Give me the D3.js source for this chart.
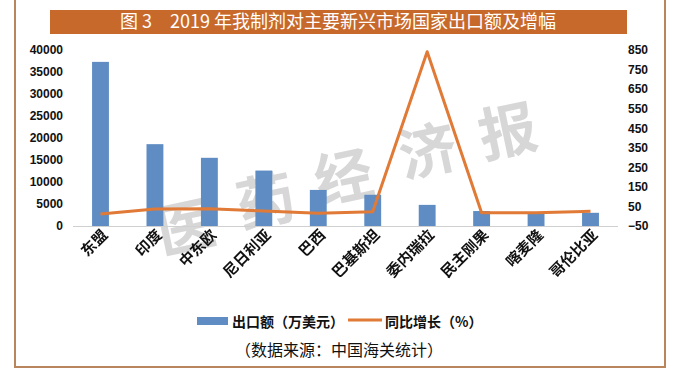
<!DOCTYPE html>
<html>
<head>
<meta charset="utf-8">
<script src="https://cdn.jsdelivr.net/npm/d3@7"></script>
<style>
  body { margin: 0; background: #fff; }
  text { font-family: "Noto Sans CJK SC", "Noto Sans", sans-serif; }
  .tick-num { font-family: "Liberation Sans", Arial, sans-serif; font-weight: bold; font-size: 12px; fill: #111; }
</style>
</head>
<body>
<div class="chart"></div>
<script>
var svgWidth = 679;
var svgHeight = 388;

// data
var countries = ["东盟", "印度", "中东欧", "尼日利亚", "巴西", "巴基斯坦", "委内瑞拉", "民主刚果", "喀麦隆", "哥伦比亚"];
var exportValues = [37300, 18600, 15500, 12600, 8200, 7100, 4800, 3400, 3000, 3000];
var growthValues = [11, 37, 38, 27, 15, 23, 841, 18, 18, 25];
var leftTicks = [0, 5000, 10000, 15000, 20000, 25000, 30000, 35000, 40000];
var rightTicks = [-50, 50, 150, 250, 350, 450, 550, 650, 750, 850];
var watermarkChars = ["医", "药", "经", "济", "报"];

var plot = { left: 73, right: 618, top: 50, bottom: 226 };

var svg = d3.select(".chart")
  .append("svg")
  .attr("width", svgWidth)
  .attr("height", svgHeight);

// outer frame
svg.append("rect")
  .attr("x", 15)
  .attr("y", -4)
  .attr("width", 650)
  .attr("height", 371)
  .attr("fill", "none")
  .attr("stroke", "#b9855d")
  .attr("stroke-width", 2);

// title bar
svg.append("rect")
  .attr("x", 50)
  .attr("y", 10)
  .attr("width", 577)
  .attr("height", 24)
  .attr("fill", "#c8692c");

svg.append("text")
  .attr("x", 338)
  .attr("y", 28)
  .attr("text-anchor", "middle")
  .attr("fill", "#fff")
  .attr("font-size", "18px")
  .text("图 3　2019 年我制剂对主要新兴市场国家出口额及增幅");

// scales
var xScale = d3.scaleBand()
  .domain(countries)
  .range([plot.left, plot.right])
  .paddingInner(0.69)
  .paddingOuter(0.35);

var yLeft = d3.scaleLinear()
  .domain([0, 40000])
  .range([plot.bottom, plot.top]);

var yRight = d3.scaleLinear()
  .domain([-50, 850])
  .range([plot.bottom, plot.top]);

// left axis (labels only)
var leftAxis = svg.append("g")
  .attr("transform", `translate(${plot.left}, 0)`)
  .call(d3.axisLeft(yLeft).tickValues(leftTicks).tickFormat(d3.format("d")).tickSize(0).tickPadding(10));
leftAxis.select(".domain").remove();
leftAxis.selectAll("text").attr("class", "tick-num");

// right axis (labels only)
var rightAxis = svg.append("g")
  .attr("transform", `translate(${plot.right}, 0)`)
  .call(d3.axisRight(yRight).tickValues(rightTicks).tickFormat(d3.format("d")).tickSize(0).tickPadding(10));
rightAxis.select(".domain").remove();
rightAxis.selectAll("text").attr("class", "tick-num");

// watermark
var wm = svg.append("g").attr("opacity", 0.6);
var wmPos = [[190, 248], [270, 222], [348, 198], [432, 172], [512, 152]];
wm.selectAll("text")
  .data(watermarkChars)
  .enter()
  .append("text")
  .attr("transform", (d, i) => `translate(${wmPos[i][0]}, ${wmPos[i][1]}) rotate(-12)`)
  .attr("text-anchor", "middle")
  .attr("font-size", "58px")
  .attr("fill", "#bdbdbd")
  .attr("font-family", "'Noto Sans CJK SC', sans-serif")
  .attr("font-weight", "bold")
  .text(d => d);

// bars
svg.append("g")
  .selectAll("rect")
  .data(countries)
  .enter()
  .append("rect")
  .attr("x", d => xScale(d))
  .attr("y", (d, i) => yLeft(exportValues[i]))
  .attr("width", xScale.bandwidth())
  .attr("height", (d, i) => plot.bottom - yLeft(exportValues[i]))
  .attr("fill", "#5f8dc3");

// baseline
svg.append("line")
  .attr("x1", plot.left)
  .attr("x2", plot.right)
  .attr("y1", plot.bottom + 0.5)
  .attr("y2", plot.bottom + 0.5)
  .attr("stroke", "#d0d0d0")
  .attr("stroke-width", 1);

// growth line
var line = d3.line()
  .x((d, i) => xScale(countries[i]) + xScale.bandwidth() / 2)
  .y(d => yRight(d));

svg.append("path")
  .datum(growthValues)
  .attr("d", line)
  .attr("fill", "none")
  .attr("stroke", "#e07a36")
  .attr("stroke-width", 3)
  .attr("stroke-linejoin", "round");

// category labels
svg.append("g")
  .selectAll("text")
  .data(countries)
  .enter()
  .append("text")
  .attr("transform", d => `translate(${xScale(d) + xScale.bandwidth() / 2 + 8}, 236) rotate(-45)`)
  .attr("text-anchor", "end")
  .attr("font-size", "15px")
  .attr("font-weight", "bold")
  .attr("fill", "#111")
  .text(d => d);

// legend
var legend = svg.append("g");
legend.append("rect")
  .attr("x", 197)
  .attr("y", 317)
  .attr("width", 31)
  .attr("height", 8)
  .attr("fill", "#5f8dc3");
legend.append("text")
  .attr("x", 232)
  .attr("y", 327)
  .attr("font-size", "14px")
  .attr("font-weight", "bold")
  .attr("fill", "#111")
  .text("出口额（万美元）");
legend.append("line")
  .attr("x1", 348)
  .attr("x2", 382)
  .attr("y1", 320)
  .attr("y2", 320)
  .attr("stroke", "#e07a36")
  .attr("stroke-width", 3);
legend.append("text")
  .attr("x", 385)
  .attr("y", 327)
  .attr("font-size", "14px")
  .attr("font-weight", "bold")
  .attr("fill", "#111")
  .text("同比增长（%）");

svg.append("text")
  .attr("x", 339)
  .attr("y", 356)
  .attr("text-anchor", "middle")
  .attr("font-size", "16px")
  .attr("fill", "#111")
  .text("（数据来源：中国海关统计）");
</script>
</body>
</html>
